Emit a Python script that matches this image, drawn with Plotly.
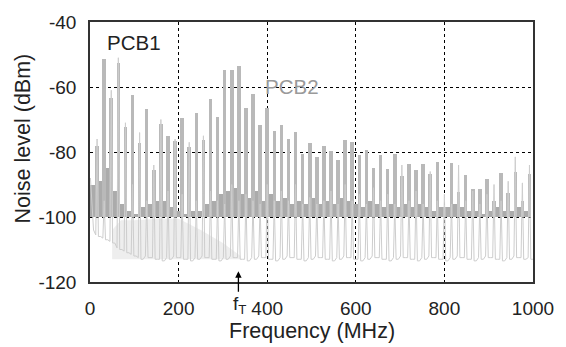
import plotly.graph_objects as go

# ---------------- data ----------------
harmonic_n = list(range(1, 63))
harmonic_mhz = [16 * n for n in harmonic_n]          # clock harmonics (MHz)

pcb1_peak_dbm = [-78.0, -51.4, -63.5, -52.7, -72.4, -62.5, -77.2, -66.9, -85.5, -71.4,
                 -75.2, -76.5, -69.6, -78.5, -68.1, -76.2, -63.7, -69.1, -54.8, -54.7,
                 -53.5, -66.6, -62.3, -71.7, -66.6, -73.5, -71.7, -76.0, -73.9, -80.5,
                 -77.3, -81.4, -78.2, -79.7, -82.4, -76.3, -76.8, -80.9, -79.3, -85.0,
                 -80.8, -85.2, -80.5, -87.5, -83.6, -85.6, -83.6, -86.7, -83.0, -97.0,
                 -83.5, -92.4, -87.0, -91.5, -91.5, -88.3, -95.2, -86.6, -92.7, -86.3,
                 -95.0, -86.8]

# PCB1 low-level noise band (between harmonics), levels at 16k+8 MHz
pcb1_band_mhz = [16 * k + 8 for k in range(62)]
pcb1_band_dbm = [-90, -89, -85, -92, -96, -98, -99, -97, -96, -95,
                 -95, -97, -98, -99, -98, -98, -96, -95, -93, -92,
                 -91, -93, -94, -92, -95, -93, -95, -94, -96, -95,
                 -96, -94, -96, -95, -96, -94, -95, -96, -97, -95,
                 -96, -97, -96, -97, -96, -97, -96, -97, -98, -97,
                 -97, -96, -97, -98, -98, -99, -98, -97, -98, -98,
                 -97, -98]
pcb1_floor_dbm = -100

pcb2_peak_dbm = [-76, -95, -61, -51, -71, -90, -74, -95, -84, -70,
                 -92, -76, -93, -77, -95, -75, -92, -95, -96, -90,
                 -95, -93, -95, -96, -90, -95, -92, -95, -90, -96,
                 -94, -96, -95, -92, -96, -90, -95, -93, -96, -91,
                 -95, -93, -96, -84, -95, -92, -96, -86, -95, -93,
                 -96, -84, -95, -92, -96, -93, -90, -95, -89, -81.5,
                 -89.5, -84]
# PCB2 floor between harmonics (63 values: before 1st, between, after last)
pcb2_floor_dbm = [-88, -106, -107, -108, -110, -111, -112, -113, -112.5, -113,
                  -113.5, -113, -112.5, -113, -113.5, -113, -112.5, -113, -113.5, -113,
                  -112.5, -113, -113.5, -113, -112.5, -113, -113.5, -113, -112.5, -113,
                  -113.5, -113, -112.5, -113, -113.5, -113, -112.5, -113, -113.5, -113,
                  -112.5, -113, -113.5, -113, -112.5, -113, -113.5, -113, -112.5, -113,
                  -113.5, -113, -112.5, -113, -113.5, -113, -112.5, -113, -113.5, -113,
                  -112.5, -113, -113]
# PCB2 raised noise region (light hump)
pcb2_hump_mhz = [50, 70, 100, 150, 200, 250, 300, 340]
pcb2_hump_dbm = [-104, -101, -101, -100.5, -100.5, -104, -108, -112]
pcb2_hump_base = -113

x_ticks = [0, 200, 400, 600, 800, 1000]
y_ticks = [-120, -100, -80, -60, -40]
ft_mhz = 335

# ---------------- figure ----------------
fig = go.Figure()

# PCB2 raised noise fill
fig.add_trace(go.Scatter(
    x=pcb2_hump_mhz + pcb2_hump_mhz[::-1],
    y=pcb2_hump_dbm + [pcb2_hump_base] * len(pcb2_hump_mhz),
    fill='toself', fillcolor='#eeeeee', line=dict(width=0), mode='lines',
    hoverinfo='skip'))

# PCB2 spectrum trace (thin light line)
xs, ys = [1], [pcb2_floor_dbm[0]]
for i, f in enumerate(harmonic_mhz):
    xs += [f - 8, f - 3, f, f + 3]
    ys += [pcb2_floor_dbm[i] if i > 0 else -104, pcb2_floor_dbm[i + 1] + 0.5,
           pcb2_peak_dbm[i], pcb2_floor_dbm[i + 1]]
xs.append(1000)
ys.append(pcb2_floor_dbm[-1])
fig.add_trace(go.Scatter(x=xs, y=ys, mode='lines',
                         line=dict(color='#cdcdcd', width=1), hoverinfo='skip'))

# PCB1 noise band
fig.add_trace(go.Bar(
    x=pcb1_band_mhz, y=[v - pcb1_floor_dbm for v in pcb1_band_dbm],
    base=pcb1_floor_dbm, width=16, opacity=1,
    marker=dict(color='#ababab', line=dict(width=0))))

# PCB1 harmonics
fig.add_trace(go.Bar(
    x=harmonic_mhz, y=[v - pcb1_floor_dbm for v in pcb1_peak_dbm],
    base=pcb1_floor_dbm, width=8, opacity=1,
    marker=dict(color='#b9b9b9', line=dict(width=0))))

axis_common = dict(showgrid=True, gridcolor='black', griddash='dot', gridwidth=1,
                   showline=True, linecolor='#333333', linewidth=1.5, mirror=True,
                   zeroline=False, ticks='', ticklabelstandoff=8,
                   tickfont=dict(size=19, color='#222222'))

fig.update_layout(
    width=566, height=347,
    margin=dict(l=90, r=29, t=17, b=65),
    plot_bgcolor='white', paper_bgcolor='white',
    showlegend=False, barmode='overlay', bargap=0,
    font=dict(family='Arial, "Liberation Sans", sans-serif', size=19, color='#222222'),
    xaxis=dict(range=[0, 1000], tickvals=x_ticks, ticktext=[str(v) for v in x_ticks],
               **axis_common),
    yaxis=dict(range=[-120, -40], tickvals=y_ticks, ticktext=[str(v) for v in y_ticks],
               **axis_common),
    annotations=[
        dict(x=0.5, y=-0.19, xref='paper', yref='paper', text='Frequency (MHz)',
             showarrow=False, xanchor='center', yanchor='middle',
             font=dict(size=21.5, color='#222222')),
        dict(x=-0.152, y=0.551, xref='paper', yref='paper', text='Noise level (dBm)',
             showarrow=False, xanchor='center', yanchor='middle', textangle=-90,
             font=dict(size=21.5, color='#222222')),
        dict(x=100, y=-46.2, xref='x', yref='y', text='PCB1', showarrow=False,
             font=dict(size=20.5, color='#222222')),
        dict(x=455, y=-59.8, xref='x', yref='y', text='PCB2', showarrow=False,
             font=dict(size=20.5, color='#9a9a9a')),
        dict(x=ft_mhz, y=-116.7, xref='x', yref='y', text='', showarrow=True,
             ax=0, ay=22, arrowhead=2, arrowsize=1, arrowwidth=1.3, arrowcolor='black'),
        dict(x=ft_mhz + 3, y=-0.09, xref='x', yref='paper', text='f<sub>T</sub>',
             showarrow=False, xanchor='center', yanchor='middle',
             font=dict(size=19, color='#222222')),
    ],
)

fig.write_html("out.html")
